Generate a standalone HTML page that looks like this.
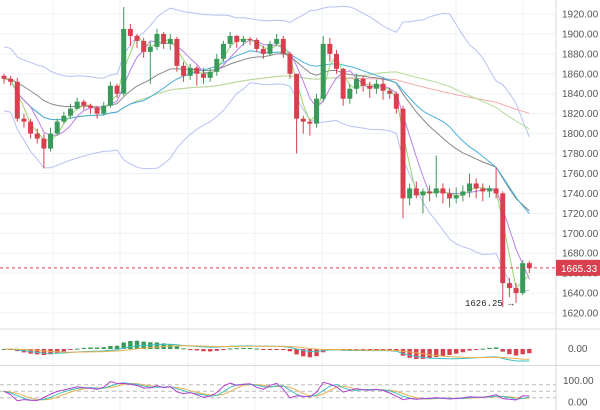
<!DOCTYPE html>
<html><head><meta charset="utf-8"><style>
html,body{margin:0;padding:0;background:#fff;}
svg{display:block;font-family:"Liberation Sans",sans-serif;}
</style></head><body>
<svg id="c" width="600" height="410" xmlns="http://www.w3.org/2000/svg"></svg>
<script>
const closes=[1855,1852,1815,1812,1800,1795,1785,1800,1812,1818,1825,1832,1828,1826,1820,1828,1848,1840,1905,1898,1893,1882,1887,1900,1890,1895,1868,1858,1866,1860,1856,1862,1875,1890,1898,1892,1895,1894,1885,1880,1890,1895,1880,1860,1815,1812,1810,1835,1890,1880,1865,1835,1845,1855,1848,1845,1850,1843,1840,1825,1735,1745,1738,1742,1740,1745,1740,1735,1738,1742,1750,1745,1742,1745,1740,1650,1645,1640,1670,1665];
const highs=[1860,1858,1856,1820,1815,1805,1800,1806,1815,1822,1830,1836,1834,1830,1828,1832,1852,1850,1927,1910,1900,1896,1892,1905,1902,1900,1897,1872,1870,1868,1866,1866,1880,1893,1902,1899,1898,1897,1896,1888,1893,1900,1898,1882,1860,1818,1815,1840,1898,1896,1884,1866,1850,1860,1858,1852,1854,1856,1846,1842,1828,1750,1752,1745,1748,1778,1750,1745,1746,1748,1760,1755,1750,1748,1766,1742,1655,1650,1673,1672];
const lows=[1850,1848,1812,1806,1795,1790,1765,1782,1798,1810,1816,1824,1824,1820,1815,1818,1826,1836,1838,1888,1886,1876,1850,1884,1885,1884,1862,1852,1854,1848,1850,1852,1858,1872,1886,1886,1888,1889,1882,1875,1878,1888,1876,1855,1780,1800,1798,1806,1832,1872,1860,1828,1830,1840,1842,1836,1840,1834,1835,1820,1715,1728,1735,1720,1732,1736,1730,1726,1730,1732,1736,1735,1732,1736,1735,1626,1636,1630,1638,1660];
const priceTicks=[1920,1900,1880,1860,1840,1820,1800,1780,1760,1740,1720,1700,1680,1660,1640,1620];
const lastPrice=1665.33, lowMark=1626.25;

const S=document.getElementById('c'),NS='http://www.w3.org/2000/svg';
function mk(t,a,p){const e=document.createElementNS(NS,t);for(const k in a)e.setAttribute(k,a[k]);(p||S).appendChild(e);return e;}
const N=closes.length, X0=4, DX=6.65, PW=556;
const xs=i=>X0+i*DX;
const yp=p=>14+(1920-p)*0.9967;
[53,120,188,255,322,389,456,523].forEach(x=>{const l=mk('line',{x1:x,x2:x,y1:0,y2:410,stroke:'#eef1f5'});});
priceTicks.forEach(p=>{const y=yp(p);const l=mk('line',{x1:0,x2:PW,y1:y,y2:y,stroke:'#eef1f5'});
 const t=mk('text',{x:562,y:y+3.5,'font-size':10,fill:'#555'});t.textContent=p.toFixed(2);});
mk('line',{x1:PW,x2:PW,y1:0,y2:410,stroke:'#d6d9de'});
mk('line',{x1:0,x2:600,y1:329,y2:329,stroke:'#d6d9de'});
mk('line',{x1:0,x2:600,y1:365.5,y2:365.5,stroke:'#d6d9de'});
function sma(a,n){return a.map((v,i)=>{const s=a.slice(Math.max(0,i-n+1),i+1);return s.reduce((x,y)=>x+y,0)/s.length;});}
function ema(a,n){const k=2/(n+1);let r=[];a.forEach((v,i)=>r.push(i?v*k+r[i-1]*(1-k):v));return r;}
function path(vals,fy,col,name,w){let d='';vals.forEach((v,i)=>{d+=(i?'L':'M')+xs(i).toFixed(1)+' '+fy(v).toFixed(1);});const p=mk('path',{d:d,fill:'none',stroke:col,'stroke-width':w||1});return p;}
const mid=sma(closes,20);
const sd=closes.map((v,i)=>{const s=closes.slice(Math.max(0,i-19),i+1);const m=mid[i];return Math.max(16,Math.sqrt(s.reduce((a,b)=>a+(b-m)*(b-m),0)/s.length));});
path(mid.map((m,i)=>m+2*sd[i]),yp,'#b8c2f2','bollinger-upper');
path(mid.map((m,i)=>m-2*sd[i]),yp,'#b8c2f2','bollinger-lower');
path(sma(closes,100),yp,'#f2aaaa','ma-100');
path(sma(closes,50),yp,'#b4dc98','ma-50');
path(ema(closes,20),yp,'#888','ema-20');
path(sma(closes,20),yp,'#4ab0dc','ma-20');
path(sma(closes,5),yp,'#b880e4','ma-5');
path(sma(closes,3),yp,'#9ad470','ma-3');
for(let i=0;i<N;i++){const o=i?closes[i-1]:closes[0]+3,c=closes[i];const up=c>=o;const col=up?'#3a9a5a':'#d9404f';const x=xs(i);
 const g=mk('g',{});
 mk('line',{x1:x,x2:x,y1:yp(highs[i]),y2:yp(lows[i]),stroke:col},g);
 const t=yp(Math.max(o,c)),b=yp(Math.min(o,c));mk('rect',{x:x-2.5,y:t,width:5,height:Math.max(1,b-t),fill:col},g);}
const ly=yp(lastPrice);
mk('line',{x1:0,x2:PW,y1:ly,y2:ly,stroke:'#d9404f','stroke-dasharray':'3,3'});
const lb=mk('g',{});
mk('rect',{x:556,y:ly-8,width:44,height:16,fill:'#d9404f'},lb);
const lt=mk('text',{x:561,y:ly+4,'font-size':10,fill:'#fff'},lb);lt.textContent=lastPrice.toFixed(2);
const an=mk('text',{x:465,y:yp(lowMark)-1,'font-size':9,fill:'#222','font-family':'Liberation Mono,monospace'});an.textContent=lowMark.toFixed(2)+' →';
// MACD
const e26=ema(closes,26);const macd=ema(closes,12).map((v,i)=>v-e26[i]);const sig=ema(macd,9);
const hm=Math.max(...macd.map(Math.abs));const ym=v=>349-v/hm*12;
const hist=macd.map((v,i)=>v-sig[i]);const hh=Math.max(...hist.map(Math.abs));const yh=v=>349-v/hh*10;
hist.forEach((h,i)=>{const x=xs(i);const r=mk('rect',{x:x-2.2,y:Math.min(yh(h),349),width:4.4,height:Math.max(1,Math.abs(yh(h)-349)),fill:h>=0?'#3a9a5a':'#d9404f'});});
path(macd,ym,'#40c0c0','macd-line');path(sig,ym,'#e8b050','macd-signal');
const mz=mk('text',{x:568,y:352,'font-size':10,fill:'#555'});mz.textContent='0.00';
// stochastic
const k=closes.map((c,i)=>{const a=Math.max(...highs.slice(Math.max(0,i-13),i+1)),b=Math.min(...lows.slice(Math.max(0,i-13),i+1));return a>b?(c-b)/(a-b)*100:50;});
const ys=v=>402-v*0.215;
[80,50,20].forEach(v=>mk('line',{x1:0,x2:PW,y1:ys(v),y2:ys(v),stroke:'#bbb','stroke-dasharray':'4,3'}));
const d1=sma(k,3),d2=sma(d1,3);
path(d2,ys,'#e8b050','stoch-slow');path(d1,ys,'#40c0c0','stoch-d');path(k,ys,'#b040d0','stoch-k');
[[100,'100.00'],[0,'0.00']].forEach(a=>{const t=mk('text',{x:a[0]?563:568,y:ys(a[0])+3.5,'font-size':10,fill:'#555'});t.textContent=a[1];});
</script>
</body></html>
